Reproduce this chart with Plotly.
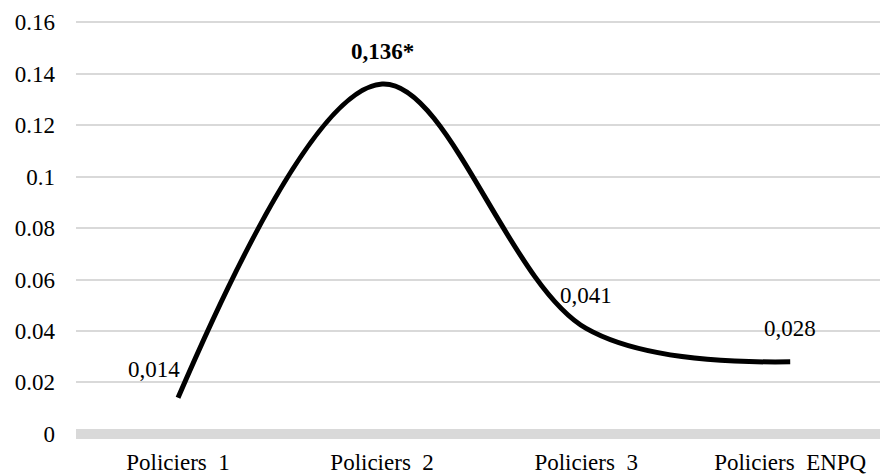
import plotly.graph_objects as go

# Data
categories = ["Policiers 1", "Policiers 2", "Policiers 3", "Policiers ENPQ"]
values = [0.014, 0.136, 0.041, 0.028]
significant = [False, True, False, False]
y_ticks = [0, 0.02, 0.04, 0.06, 0.08, 0.1, 0.12, 0.14, 0.16]
tick_labels = ["Policiers\u00a0 1", "Policiers\u00a0 2", "Policiers\u00a0 3", "Policiers\u00a0 ENPQ"]

FONT = "Times New Roman, Liberation Serif, serif"

fig = go.Figure()
fig.add_trace(go.Scatter(
    x=categories, y=values, mode="lines",
    line=dict(color="black", width=5, shape="spline", smoothing=1),
    hoverinfo="skip", showlegend=False,
))

# value labels (comma decimal, significant value in bold with asterisk)
label_shift = [(-24, 28), (0, 33), (0, 33), (0, 33)]
for cat, v, sig, (dx, dy) in zip(categories, values, significant, label_shift):
    txt = f"{v:.3f}".replace(".", ",")
    if sig:
        txt = f"<b>{txt}*</b>"
    fig.add_annotation(
        x=cat, y=v, text=txt, showarrow=False,
        xshift=dx, yshift=dy,
        font=dict(family=FONT, size=23, color="black"),
    )

fig.update_layout(
    width=880, height=474,
    margin=dict(l=76, r=0, t=21, b=35),
    paper_bgcolor="white", plot_bgcolor="white",
    font=dict(family=FONT, size=23, color="black"),
    xaxis=dict(
        type="category", range=[-0.5, 3.44],
        tickvals=categories, ticktext=tick_labels,
        showgrid=False, zeroline=False, showline=False,
        ticks="", ticklabelstandoff=7,
    ),
    yaxis=dict(
        range=[-0.002, 0.1605],
        tickvals=y_ticks,
        ticktext=[f"{t:g}" for t in y_ticks],
        showgrid=True, gridcolor="#d9d9d9", gridwidth=1.5,
        zeroline=True, zerolinecolor="#d9d9d9", zerolinewidth=10,
        showline=False, ticks="", ticklabelstandoff=20,
    ),
)

fig.write_html("out.html")
